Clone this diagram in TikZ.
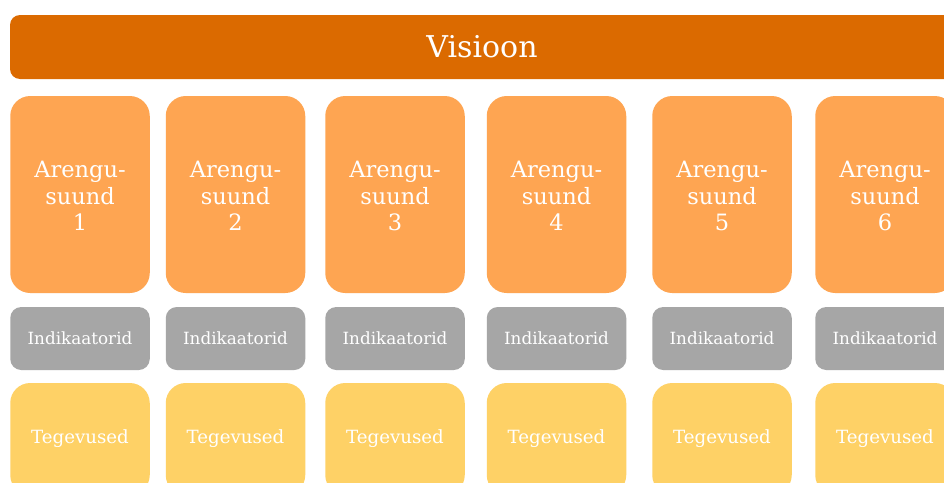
\documentclass[tikz,border=0pt]{standalone}
\usepackage{fontspec}
\setmainfont{DejaVu Serif}
\definecolor{visionc}{RGB}{219,106,0}
\definecolor{dirc}{RGB}{254,165,82}
\definecolor{indc}{RGB}{166,166,166}
\definecolor{actc}{RGB}{254,209,102}
\tikzset{
  basebox/.style={rectangle, draw=none, text=white, align=center, inner sep=0pt},
  visionbox/.style={basebox, fill=visionc, rounded corners=10pt, minimum width=944pt, minimum height=64pt, font=\fontsize{30}{34}\selectfont},
  dirbox/.style={basebox, fill=dirc, rounded corners=20pt, minimum width=139.5pt, minimum height=197pt},
  dirtext/.style={basebox, font=\fontsize{22.5}{26.5}\selectfont},
  indbox/.style={basebox, fill=indc, rounded corners=11pt, minimum width=139.5pt, minimum height=63pt, font=\fontsize{16.8}{19}\selectfont},
  actbox/.style={basebox, fill=actc, rounded corners=20pt, minimum width=139.5pt, minimum height=112pt, font=\fontsize{18.2}{21}\selectfont}
}
\begin{document}
\begin{tikzpicture}[x=1pt,y=-1pt]
\useasboundingbox (0,0) rectangle (944,482);
\clip (0,0) rectangle (944,482);
\fill[white] (0,0) rectangle (944,482);
\node[visionbox] (vis) at (482,47) {Visioon};
\foreach \i/\cx in {1/80,2/235.5,3/395,4/556.5,5/722,6/885}{
  \node[dirbox] (d\i) at (\cx,194.5) {};
  \node[dirtext] (dt\i) at (\cx,196) {Arengu-\\suund\\\i};
  \node[indbox] (k\i) at (\cx,338.5) {Indikaatorid};
  \node[actbox] (t\i) at (\cx,439) {Tegevused};
}
\end{tikzpicture}
\end{document}
